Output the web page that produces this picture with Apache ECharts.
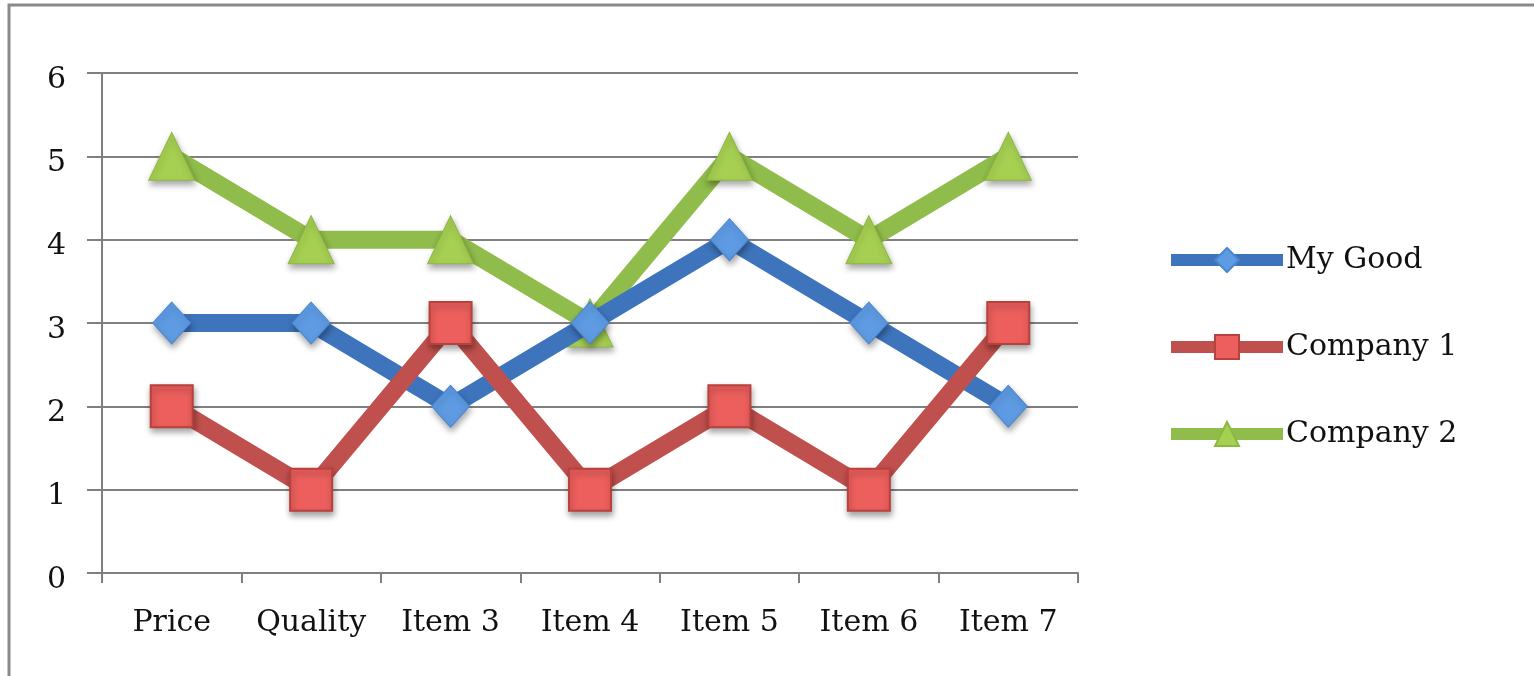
<!DOCTYPE html>
<html><head><meta charset="utf-8">
<script src="https://cdn.jsdelivr.net/npm/echarts@6/dist/echarts.min.js"></script>
<style>html,body{margin:0;padding:0;background:#fff}#c{width:1534px;height:676px}</style>
</head><body><div id="c"></div>
<script>
const categories = ['Price','Quality','Item 3','Item 4','Item 5','Item 6','Item 7'];
const seriesNames = ['My Good','Company 1','Company 2'];
const myGood = [3,3,2,3,4,3,2];
const company1 = [2,1,3,1,2,1,3];
const company2 = [5,4,4,3,5,4,5];
const yTicks = [0,1,2,3,4,5,6];

const font = 'DejaVu Serif';
const chart = echarts.init(document.getElementById('c'));
const shadow = {shadowColor:'rgba(0,0,0,0.35)', shadowBlur:6, shadowOffsetX:1, shadowOffsetY:4};
chart.setOption({
  animation:false,
  backgroundColor:'#fff',
  graphic:[{type:'rect', shape:{x:9,y:5,width:1540,height:690}, style:{fill:'none', stroke:'#8a8a8a', lineWidth:3}, silent:true}],
  grid:{left:102, right:456, top:73, bottom:103},
  legend:{
    orient:'vertical', left:1160, top:240, itemWidth:112, itemHeight:30, itemGap:57,
    lineStyle:{width:12},
    textStyle:{fontFamily:font, fontSize:30, color:'#111', padding:[0,0,0,-2]},
    data:seriesNames
  },
  xAxis:{
    type:'category', data:categories, boundaryGap:true,
    axisLine:{lineStyle:{color:'#808080', width:2}},
    axisTick:{show:true, interval:0, length:10, lineStyle:{color:'#808080', width:2}},
    axisLabel:{interval:0, fontFamily:font, fontSize:30, color:'#111', margin:35}
  },
  yAxis:{
    type:'value', min:yTicks[0], max:yTicks[yTicks.length-1], interval:1,
    axisLine:{show:true, lineStyle:{color:'#808080', width:2}},
    axisTick:{show:true, length:15, lineStyle:{color:'#808080', width:2}},
    splitLine:{lineStyle:{color:'#808080', width:2}},
    axisLabel:{fontFamily:font, fontSize:30, color:'#111', margin:36, verticalAlign:'top', lineHeight:14}
  },
  series:[
    {name:seriesNames[0], type:'line', data:myGood, symbol:'diamond', symbolSize:[38,42],
     lineStyle:{color:'#3e74bc', width:18}, itemStyle:Object.assign({color:'#5e9be3', borderColor:'#4a86d0', borderWidth:1}, shadow), z:3},
    {name:seriesNames[1], type:'line', data:company1, symbol:'rect', symbolSize:[42,42],
     lineStyle:{color:'#c0504d', width:18}, itemStyle:Object.assign({color:'#ec5f5c', borderColor:'#b8413e', borderWidth:2}, shadow), z:4},
    {name:seriesNames[2], type:'line', data:company2, symbol:'triangle', symbolSize:[46,48],
     lineStyle:{color:'#8fbc4a', width:18}, itemStyle:Object.assign({color:'#a6d052', borderColor:'#8db743', borderWidth:1}, shadow), z:2}
  ]
});
</script></body></html>
